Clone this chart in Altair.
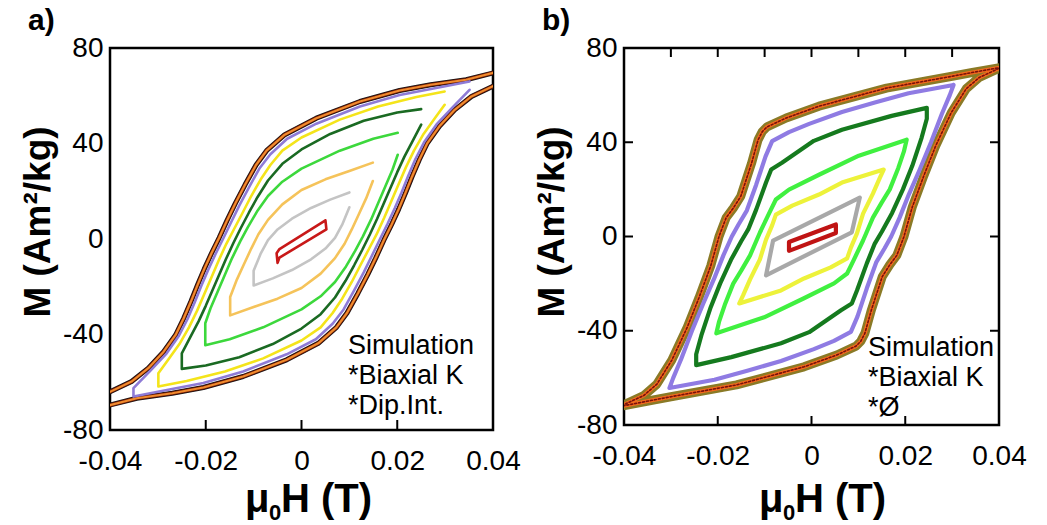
import altair as alt
import pandas as pd

# ---------------------------------------------------------------------------
# Hysteresis loops, mu0H in tesla and M in Am^2/kg, listed along the path
# (descending branch first, then the ascending branch).
# ---------------------------------------------------------------------------
X_TICKS = [-0.04, -0.02, 0, 0.02, 0.04]
Y_TICKS = [-80, -40, 0, 40, 80]

# ---- a) biaxial anisotropy + dipolar interaction -------------------------
A_OUTER = [
    (0.0405, 69.8), (0.0344, 66.7), (0.0270, 64.6), (0.0205, 62.2), (0.0122, 57.6),
    (0.0031, 50.6), (-0.0035, 43.7), (-0.0073, 37.0), (-0.0095, 31.0), (-0.0118, 22.7),
    (-0.0138, 15.0), (-0.0155, 8.0), (-0.0172, 0.5), (-0.0188, -6.0), (-0.0203, -12.5),
    (-0.0217, -19.2), (-0.0231, -26.2), (-0.0246, -33.2), (-0.0263, -40.2), (-0.0288, -47.2),
    (-0.0320, -54.1), (-0.0355, -59.7), (-0.0405, -64.5),
    (-0.0405, -69.8), (-0.0344, -66.7), (-0.0270, -64.6), (-0.0205, -62.2), (-0.0122, -57.6),
    (-0.0031, -50.6), (0.0035, -43.7), (0.0073, -37.0), (0.0095, -31.0), (0.0118, -22.7),
    (0.0138, -15.0), (0.0155, -8.0), (0.0172, -0.5), (0.0188, 6.0), (0.0203, 12.5),
    (0.0217, 19.2), (0.0231, 26.2), (0.0246, 33.2), (0.0263, 40.2), (0.0288, 47.2),
    (0.0320, 54.1), (0.0355, 59.7), (0.0405, 64.5),
]
A_PURPLE = [
    (0.0351, 66.0), (0.0300, 64.0), (0.0205, 60.3), (0.0122, 55.5), (0.0031, 48.3),
    (-0.0030, 42.0), (-0.0065, 35.5), (-0.0088, 29.5), (-0.0110, 21.5), (-0.0130, 14.0),
    (-0.0147, 7.0), (-0.0164, 0.0), (-0.0180, -6.5), (-0.0195, -13.0), (-0.0209, -19.5),
    (-0.0223, -26.5), (-0.0238, -33.5), (-0.0256, -40.5), (-0.0282, -48.0), (-0.0315, -55.0),
    (-0.0351, -62.5),
    (-0.0351, -66.0), (-0.0300, -64.0), (-0.0205, -60.3), (-0.0122, -55.5), (-0.0031, -48.3),
    (0.0030, -42.0), (0.0065, -35.5), (0.0088, -29.5), (0.0110, -21.5), (0.0130, -14.0),
    (0.0147, -7.0), (0.0164, 0.0), (0.0180, 6.5), (0.0195, 13.0), (0.0209, 19.5),
    (0.0223, 26.5), (0.0238, 33.5), (0.0256, 40.5), (0.0282, 48.0), (0.0315, 55.0),
    (0.0351, 62.5),
]
A_YELLOW = [
    (0.0299, 61.8), (0.0240, 59.5), (0.0160, 55.5), (0.0080, 50.0), (0.0000, 42.5),
    (-0.0040, 37.0), (-0.0065, 31.0), (-0.0085, 25.0), (-0.0105, 18.0), (-0.0123, 11.0),
    (-0.0140, 4.5), (-0.0157, -2.0), (-0.0173, -9.0), (-0.0188, -16.0), (-0.0203, -23.0),
    (-0.0218, -30.0), (-0.0235, -37.0), (-0.0255, -44.0), (-0.0280, -51.0), (-0.0299, -56.2),
    (-0.0299, -61.8), (-0.0240, -59.5), (-0.0160, -55.5), (-0.0080, -50.0), (0.0000, -42.5),
    (0.0040, -37.0), (0.0065, -31.0), (0.0085, -25.0), (0.0105, -18.0), (0.0123, -11.0),
    (0.0140, -4.5), (0.0157, 2.0), (0.0173, 9.0), (0.0188, 16.0), (0.0203, 23.0),
    (0.0218, 30.0), (0.0235, 37.0), (0.0255, 44.0), (0.0280, 51.0), (0.0299, 56.2),
]
A_DGREEN = [
    (0.0250, 54.4), (0.0200, 53.0), (0.0130, 49.5), (0.0060, 44.0), (0.0000, 37.5),
    (-0.0040, 31.5), (-0.0070, 24.5), (-0.0092, 17.5), (-0.0110, 11.0), (-0.0127, 4.5),
    (-0.0143, -2.0), (-0.0158, -8.5), (-0.0172, -15.0), (-0.0186, -21.5), (-0.0200, -28.0),
    (-0.0215, -34.5), (-0.0232, -41.0), (-0.0250, -47.9),
    (-0.0250, -54.4), (-0.0200, -53.0), (-0.0130, -49.5), (-0.0060, -44.0), (0.0000, -37.5),
    (0.0040, -31.5), (0.0070, -24.5), (0.0092, -17.5), (0.0110, -11.0), (0.0127, -4.5),
    (0.0143, 2.0), (0.0158, 8.5), (0.0172, 15.0), (0.0186, 21.5), (0.0200, 28.0),
    (0.0215, 34.5), (0.0232, 41.0), (0.0250, 47.9),
]
A_LGREEN = [
    (0.0201, 44.5), (0.0150, 42.0), (0.0080, 37.0), (0.0000, 29.5), (-0.0040, 24.0),
    (-0.0070, 18.0), (-0.0093, 11.5), (-0.0112, 5.0), (-0.0128, -1.0), (-0.0145, -8.0),
    (-0.0160, -15.0), (-0.0175, -22.0), (-0.0190, -29.0), (-0.0201, -35.3),
    (-0.0201, -44.5), (-0.0150, -42.0), (-0.0080, -37.0), (0.0000, -29.5), (0.0040, -24.0),
    (0.0070, -18.0), (0.0093, -11.5), (0.0112, -5.0), (0.0128, 1.0), (0.0145, 8.0),
    (0.0160, 15.0), (0.0175, 22.0), (0.0190, 29.0), (0.0201, 35.3),
]
A_GOLD = [
    (0.0149, 32.0), (0.0100, 28.5), (0.0050, 25.0), (0.0000, 20.5), (-0.0040, 14.5),
    (-0.0070, 8.0), (-0.0090, 2.0), (-0.0105, -4.0), (-0.0120, -10.5), (-0.0135, -17.0),
    (-0.0149, -24.3),
    (-0.0149, -32.0), (-0.0100, -28.5), (-0.0050, -25.0), (0.0000, -20.5), (0.0040, -14.5),
    (0.0070, -8.0), (0.0090, -2.0), (0.0105, 4.0), (0.0120, 10.5), (0.0135, 17.0),
    (0.0149, 24.3),
]
A_GRAY = [
    (0.0100, 19.5), (0.0060, 16.5), (0.0020, 13.0), (-0.0020, 8.5), (-0.0050, 4.0),
    (-0.0070, -0.5), (-0.0085, -6.0), (-0.0100, -13.3),
    (-0.0100, -19.5), (-0.0060, -16.5), (-0.0020, -13.0), (0.0020, -8.5), (0.0050, -4.0),
    (0.0070, 0.5), (0.0085, 6.0), (0.0100, 13.3),
]
A_RED = [
    (0.0050, 7.8), (-0.0046, -4.2), (-0.0052, -6.0), (-0.0050, -10.0), (-0.0046, -7.8),
    (0.0052, 4.0), (0.0050, 7.8),
]

# ---- b) biaxial anisotropy, no interaction -------------------------------
B_OUTER = [
    (0.0405, 71.8), (0.0340, 69.5), (0.0300, 68.0), (0.0160, 63.0), (0.0016, 55.3),
    (-0.0054, 50.3), (-0.0095, 46.5), (-0.0105, 44.5), (-0.0114, 41.0), (-0.0128, 31.0),
    (-0.0151, 17.0), (-0.0167, 12.0), (-0.0182, 8.0), (-0.0197, 0.2), (-0.0215, -12.5),
    (-0.0240, -26.0), (-0.0265, -38.5), (-0.0298, -52.5), (-0.0330, -62.7), (-0.0358, -67.5),
    (-0.0405, -71.8),
    (-0.0405, -72.0), (-0.0340, -69.5), (-0.0300, -68.0), (-0.0160, -63.0), (-0.0016, -55.3),
    (0.0054, -50.3), (0.0095, -46.5), (0.0105, -44.5), (0.0114, -41.0), (0.0128, -31.0),
    (0.0151, -17.0), (0.0167, -12.0), (0.0182, -8.0), (0.0197, -0.2), (0.0215, 12.5),
    (0.0240, 26.0), (0.0265, 38.5), (0.0298, 52.5), (0.0330, 62.7), (0.0358, 67.5),
    (0.0405, 71.8),
]
B_PURPLE = [
    (0.0303, 64.3), (0.0207, 60.8), (0.0137, 57.0), (0.0065, 52.8), (-0.0005, 47.8),
    (-0.0048, 44.3), (-0.0084, 40.5), (-0.0098, 34.0), (-0.0118, 22.0), (-0.0138, 11.0),
    (-0.0156, 5.0), (-0.0170, 0.0), (-0.0188, -8.0), (-0.0208, -18.0), (-0.0230, -28.0),
    (-0.0255, -40.0), (-0.0278, -52.0), (-0.0295, -60.0), (-0.0303, -64.3),
    (-0.0207, -60.8), (-0.0137, -57.0), (-0.0065, -52.8), (0.0005, -47.8),
    (0.0048, -44.3), (0.0084, -40.5), (0.0098, -34.0), (0.0118, -22.0), (0.0138, -11.0),
    (0.0156, -5.0), (0.0170, 0.0), (0.0188, 8.0), (0.0208, 18.0), (0.0230, 28.0),
    (0.0255, 40.0), (0.0278, 52.0), (0.0295, 60.0), (0.0303, 64.3),
]
B_DGREEN = [
    (0.0246, 54.6), (0.0171, 51.2), (0.0065, 45.3), (0.0005, 40.6), (-0.0063, 31.3),
    (-0.0086, 28.4), (-0.0097, 22.9), (-0.0118, 11.4), (-0.0135, 3.0), (-0.0150, -2.0),
    (-0.0172, -10.0), (-0.0195, -20.0), (-0.0215, -30.0), (-0.0235, -42.0), (-0.0246, -50.0),
    (-0.0246, -54.6),
    (-0.0171, -51.2), (-0.0065, -45.3), (-0.0005, -40.6), (0.0063, -31.3),
    (0.0086, -28.4), (0.0097, -22.9), (0.0118, -11.4), (0.0135, -3.0), (0.0150, 2.0),
    (0.0172, 10.0), (0.0195, 20.0), (0.0215, 30.0), (0.0235, 42.0), (0.0246, 50.0),
    (0.0246, 54.6),
]
B_LGREEN = [
    (0.0203, 41.1), (0.0101, 34.3), (0.0016, 26.2), (-0.0048, 19.9), (-0.0076, 15.7),
    (-0.0090, 10.0), (-0.0110, 1.7), (-0.0131, -8.0), (-0.0150, -14.5), (-0.0167, -20.0),
    (-0.0185, -29.0), (-0.0197, -36.0), (-0.0203, -41.1),
    (-0.0101, -34.3), (-0.0016, -26.2), (0.0048, -19.9), (0.0076, -15.7),
    (0.0090, -10.0), (0.0110, -1.7), (0.0131, 8.0), (0.0150, 14.5), (0.0167, 20.0),
    (0.0185, 29.0), (0.0197, 36.0), (0.0203, 41.1),
]
B_YELLOW = [
    (0.0154, 28.4), (0.0065, 22.9), (0.0016, 17.8), (-0.0041, 13.1), (-0.0076, 9.3),
    (-0.0084, 4.7), (-0.0097, -1.3), (-0.0110, -9.7), (-0.0131, -18.2), (-0.0146, -25.0),
    (-0.0154, -28.4),
    (-0.0065, -22.9), (-0.0016, -17.8), (0.0041, -13.1), (0.0076, -9.3),
    (0.0084, -4.7), (0.0097, 1.3), (0.0110, 9.7), (0.0131, 18.2), (0.0146, 25.0),
    (0.0154, 28.4),
]
B_GRAY = [
    (0.0103, 16.5), (-0.0082, -1.8), (-0.0097, -16.5), (0.0086, 1.8), (0.0103, 16.5),
]
B_RED = [
    (0.0052, 5.1), (-0.0048, -2.3), (-0.0048, -6.1), (0.0052, 1.5), (0.0052, 5.1),
]

FONT = "Liberation Sans"

x_scale = alt.Scale(domain=[-0.04, 0.04], nice=False, zero=False)
y_scale = alt.Scale(domain=[-80, 80], nice=False, zero=False)
x_axis = alt.Axis(values=X_TICKS, labelExpr="'' + datum.value", title=None, ticks=False,
                  domain=False, grid=False, labelPadding=17, labelFlush=False,
                  labelOverlap=False, labelFontSize=28, labelFont=FONT, labelColor="black")
y_axis = alt.Axis(values=Y_TICKS, labelExpr="'' + datum.value", title=None, ticks=False,
                  domain=False, grid=False, labelPadding=7, labelFlush=False,
                  labelOverlap=False, labelFontSize=28, labelFont=FONT, labelColor="black")
X = alt.X("H:Q", scale=x_scale, axis=x_axis)
Y = alt.Y("M:Q", scale=y_scale, axis=y_axis)


def loop_frame(points):
    return pd.DataFrame({
        "H": [p[0] for p in points],
        "M": [p[1] for p in points],
        "i": list(range(len(points))),
    })


def curve(points, color, width, dash=None):
    style = dict(color=color, strokeWidth=width, clip=True,
                 strokeJoin="round", strokeCap="round")
    if dash:
        style["strokeDash"] = dash
    return alt.Chart(loop_frame(points)).mark_line(**style).encode(
        x=X, y=Y, order=alt.Order("i:Q"))


def x_ticks(values, y0, y1):
    return alt.Chart(pd.DataFrame({"H": values})).mark_rule(
        color="black", strokeWidth=2).encode(x=X, y=alt.value(y0), y2=alt.value(y1))


def y_ticks(values, x0, x1):
    return alt.Chart(pd.DataFrame({"M": values})).mark_rule(
        color="black", strokeWidth=2).encode(y=Y, x=alt.value(x0), x2=alt.value(x1))


def text(t, x, y, size, bold=False, angle=0, align="left"):
    style = dict(font=FONT, fontSize=size, color="black", align=align,
                 baseline="alphabetic", fontWeight="bold" if bold else "normal")
    if angle:
        style["angle"] = angle
    return alt.Chart(pd.DataFrame({"t": [t]})).mark_text(**style).encode(
        text="t:N", x=alt.value(x), y=alt.value(y))


def titles(tag, notes, note_x, note_y):
    layers = [
        text(tag, -82, -18, 30, bold=True),
        text("M (Am²/kg)", -60, 174, 37, bold=True, angle=270, align="center"),
        text("μ", 135, 464, 40, bold=True),
        text("0", 159, 472, 22, bold=True),
        text("H (T)", 171, 464, 40, bold=True),
    ]
    for k, line in enumerate(notes):
        layers.append(text(line, note_x, note_y + 30 * k, 27))
    return layers


# ---- panel a -------------------------------------------------------------
WA, HA = 383, 382
panel_a = alt.layer(
    curve(A_OUTER, "#111111", 5.0),
    curve(A_OUTER, "#7A1C06", 3.6),
    curve(A_OUTER, "#F08C2E", 2.2),
    curve(A_PURPLE, "#8E7BD6", 2.6),
    curve(A_YELLOW, "#F4E41A", 2.6),
    curve(A_DGREEN, "#1A6A22", 2.6),
    curve(A_LGREEN, "#3CD83C", 2.6),
    curve(A_GOLD, "#F5C35A", 2.6),
    curve(A_GRAY, "#C4C4C4", 2.6),
    curve(A_RED, "#C81818", 2.6),
    x_ticks([-0.02, 0, 0.02], HA, HA - 10),
    *titles("a)", ["Simulation", "*Biaxial K", "*Dip.Int."], 238, 306),
).properties(width=WA, height=HA)

# ---- panel b -------------------------------------------------------------
WB, HB = 375, 377
panel_b = alt.layer(
    curve(B_OUTER, "#8A7A26", 9.0),
    curve(B_OUTER, "#F26A1D", 4.0),
    curve(B_OUTER, "#7A0F0A", 1.6, dash=[2, 2]),
    curve(B_PURPLE, "#8F7BE3", 4.2),
    curve(B_DGREEN, "#157A1E", 4.2),
    curve(B_LGREEN, "#40F040", 4.2),
    curve(B_YELLOW, "#EDF23A", 4.2),
    curve(B_GRAY, "#A8A8A8", 4.2),
    curve(B_RED, "#C01414", 4.2),
    x_ticks([-0.03, -0.02, -0.01, 0, 0.01, 0.02, 0.03], 0, 9),
    x_ticks([-0.02, 0, 0.02], HB, HB - 9),
    y_ticks([-40, 0, 40], 0, 9),
    y_ticks([-40, 0, 40], WB, WB - 9),
    *titles("b)", ["Simulation", "*Biaxial K", "*Ø"], 244, 308),
).properties(width=WB, height=HB)

chart = alt.hconcat(panel_a, panel_b, spacing=131, bounds="flush").properties(
    padding={"left": 18, "top": 4, "right": 5, "bottom": 5}
).configure_view(stroke="black", strokeWidth=2.5)

chart.save("out.html", embed_options={"renderer": "svg", "actions": False})
